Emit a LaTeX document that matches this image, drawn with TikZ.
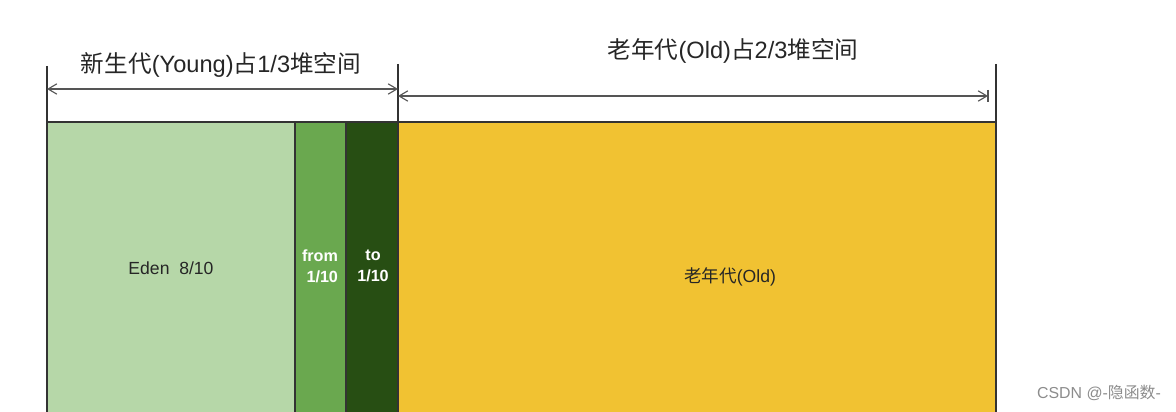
\documentclass[tikz,border=0pt]{standalone}
\usepackage{fontspec}
\setmainfont{Liberation Sans}
\newfontfamily\cjk{Noto Sans CJK SC}
\usetikzlibrary{arrows.meta,positioning}
\definecolor{edenfill}{HTML}{B6D7A8}
\definecolor{fromfill}{HTML}{6AA84F}
\definecolor{tofill}{HTML}{274E13}
\definecolor{oldfill}{HTML}{F1C232}
\definecolor{edgegray}{HTML}{333333}
\definecolor{dimgray}{HTML}{555555}

\begin{document}
\begin{tikzpicture}[x=0.025cm, y=-0.025cm,
  region/.style={draw=edgegray, line width=1.3pt},
  dimline/.style={draw=dimgray, line width=0.8pt, {Straight Barb[length=2.2mm,width=2.6mm]}-{Straight Barb[length=2.2mm,width=2.6mm]}},
  tick/.style={draw=edgegray, line width=1.3pt},
  heading/.style={font=\fontsize{16.8}{18}\selectfont, text=black!85},
  inlabel/.style={font=\fontsize{12.5}{14}\selectfont, text=black!85},
  spacelabel/.style={font=\bfseries\fontsize{11.5}{15}\selectfont, text=white, align=center}]
\path[use as bounding box] (0,0) rectangle (1176,412);
% areas
\fill[edenfill] (47,122) rectangle (295,412);
\fill[fromfill] (295,122) rectangle (346,412);
\fill[tofill] (346,122) rectangle (398,412);
\fill[oldfill] (398,122) rectangle (996,412);
\draw[region] (47,412) -- (47,122) -- (996,122) -- (996,412);
\draw[region] (295,122) -- (295,412);
\draw[region] (346,122) -- (346,412);
\draw[region] (398,122) -- (398,412);
% ticks
\coordinate (yl) at (47,89);
\coordinate (ym) at (398,89);
\coordinate (om) at (398,96);
\coordinate (or) at (988,96);
\draw[tick] (47,66) -- (47,122);
\draw[tick] (398,64) -- (398,122);
\draw[tick] (996,64) -- (996,122);
\draw[dimline] (yl) -- (ym);
\draw[dimline] (om) -- (or);
\draw[dimgray, line width=0.8pt] (988,90) -- (988,102);
\node[heading] (young) at (221,65) {{\cjk 新生代}(Young){\cjk 占}1/3{\cjk 堆空间}};
\node[heading] (old) at (733,51) {{\cjk 老年代}(Old){\cjk 占}2/3{\cjk 堆空间}};
% labels
\node[inlabel] (eden) at (171,268) {Eden\ \ 8/10};
\node[spacelabel] (from) at (320,266) {from\\\ 1/10};
\node[spacelabel] (to) at (373,266) {to\\1/10};
\node[inlabel] (oldarea) at (730,277) {{\cjk 老年代}(Old)};
\node[font=\fontsize{11.3}{13}\selectfont, text=black!45] (mark) at (1099,393) {CSDN @-{\cjk 隐函数}-};
\end{tikzpicture}
\end{document}
